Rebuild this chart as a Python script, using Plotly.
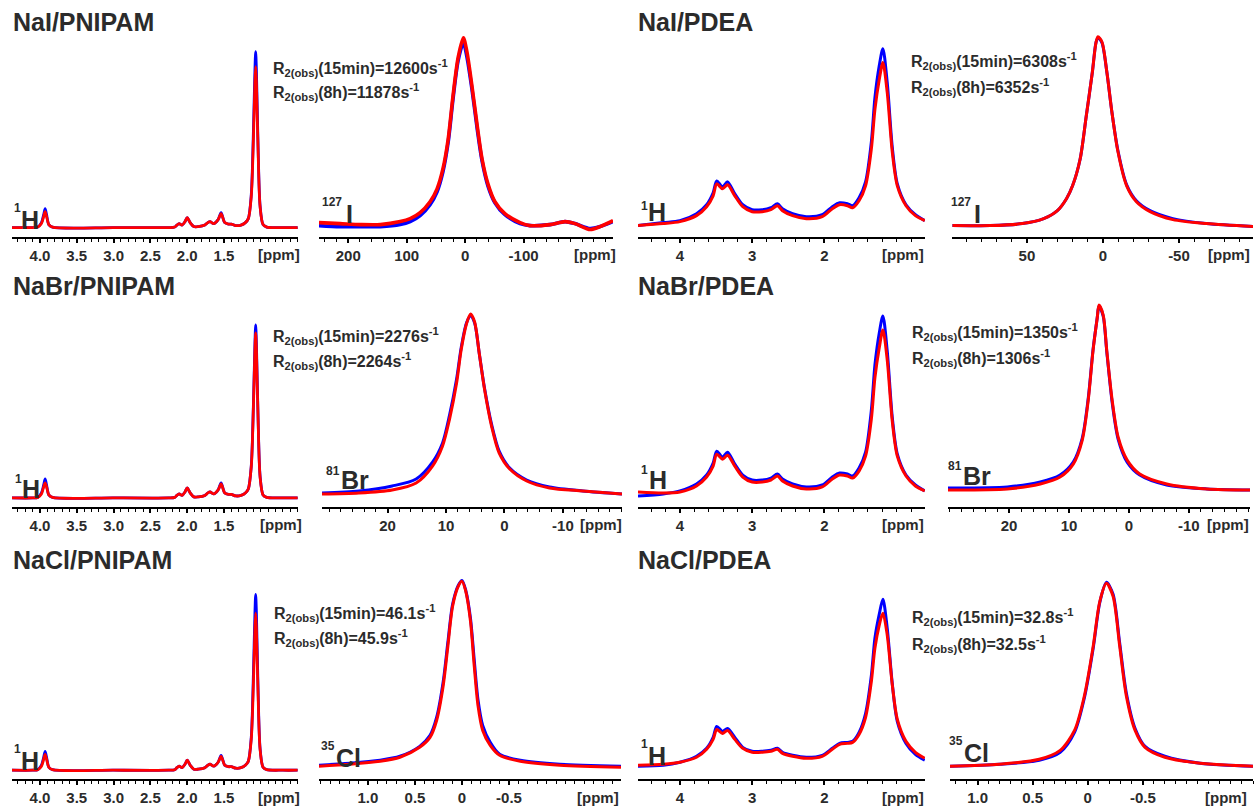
import plotly.graph_objects as go

W, H = 1257, 806

# ---------------- data (ppm, intensity) ----------------
pnipam_h_ppm = [4.38, 4.10, 4.03, 3.98, 3.95, 3.93, 3.91, 3.88, 3.83, 3.00, 2.25, 2.17, 2.14, 2.11, 2.07,
                2.03, 2.00, 1.96, 1.91, 1.85, 1.76, 1.72, 1.69, 1.64, 1.58, 1.54, 1.49, 1.44, 1.40, 1.34,
                1.27, 1.21, 1.17, 1.13, 1.10, 1.08, 1.07, 1.06, 1.04, 1.01, 0.97, 0.92, 0.70, 0.50]
nai_pnipam_h_red = [9, 9, 9.5, 13, 20, 25, 20, 12, 9.5, 9, 9, 9.5, 11.5, 13, 11.5, 15, 19, 14, 10, 10,
                    11.5, 14, 15, 13, 17, 23, 14, 12.5, 12.5, 11, 11.5, 14, 18, 40, 100, 155, 171, 155, 95, 30,
                    12, 9.5, 9, 9]
nai_pnipam_h_blue = [9, 9, 9.5, 14, 22, 28, 22, 12, 9.5, 9, 9, 9.5, 11.5, 13, 11.5, 15, 19, 14, 10, 10,
                     11.5, 14, 15, 13, 17, 24, 14, 12.5, 12.5, 11, 11.5, 14, 18, 42, 108, 168, 186, 168, 100, 31,
                     12, 9.5, 9, 9]
nabr_pnipam_h_red = [9, 9, 9.5, 13, 20, 24, 20, 12, 9.5, 9, 9, 9.5, 11.5, 13, 11.5, 15, 19, 14, 10, 10,
                     11.5, 14, 15, 13, 17, 23, 14, 12.5, 12.5, 11, 11.5, 14, 18, 40, 102, 158, 175, 158, 97, 30,
                     12, 9.5, 9, 9]
nabr_pnipam_h_blue = [9, 9, 9.5, 14, 22, 28, 22, 12, 9.5, 9, 9, 9.5, 11.5, 13, 11.5, 15, 19, 14, 10, 10,
                      11.5, 14, 15, 13, 17, 24, 14, 12.5, 12.5, 11, 11.5, 14, 18, 41, 105, 165, 183, 165, 99, 31,
                      12, 9.5, 9, 9]
nacl_pnipam_h_red = [9, 9, 9.5, 13, 20, 25, 20, 12, 9.5, 9, 9, 9.5, 11.5, 13, 11.5, 15, 19, 14, 10, 10,
                     11.5, 14, 15, 13, 17, 23, 14, 12.5, 12.5, 11, 11.5, 14, 18, 40, 98, 151, 167, 151, 93, 30,
                     12, 9.5, 9, 9]
nacl_pnipam_h_blue = [9, 9, 9.5, 14, 22, 28, 22, 12, 9.5, 9, 9, 9.5, 11.5, 13, 11.5, 15, 19, 14, 10, 10,
                      11.5, 14, 15, 13, 17, 24, 14, 12.5, 12.5, 11, 11.5, 14, 18, 42, 108, 168, 186, 168, 100, 31,
                      12, 9.5, 9, 9]

pdea_h_ppm = [4.58, 4.23, 4.00, 3.77, 3.63, 3.54, 3.49, 3.41, 3.34, 3.24, 3.13, 3.00, 2.86, 2.74, 2.65,
              2.58, 2.44, 2.25, 2.03, 1.89, 1.79, 1.68, 1.61, 1.52, 1.43, 1.35, 1.30, 1.24, 1.19, 1.13,
              1.06, 0.99, 0.87, 0.74, 0.61]
nai_pdea_h_red = [11, 13, 15, 21, 30, 41, 53, 48, 52, 41, 30, 25, 25, 27, 31, 26, 21, 18, 20, 28,
                  32, 31, 29, 36, 51, 88, 128, 158, 175, 145, 85, 51, 31, 21, 16]
nai_pdea_h_blue = [11, 14, 16, 23, 32, 44, 56, 50, 55, 43, 32, 27, 27, 29, 33, 28, 23, 20, 22, 30,
                   34, 33, 31, 39, 55, 95, 140, 172, 189, 155, 90, 53, 32, 22, 16]
nabr_pdea_h_red = [15, 14, 15, 21, 30, 41, 53, 48, 52, 41, 30, 25, 25, 27, 31, 26, 21, 18, 20, 28,
                   32, 31, 29, 36, 51, 88, 130, 160, 178, 148, 86, 51, 31, 21, 16]
nabr_pdea_h_blue = [11, 13, 16, 23, 32, 44, 56, 50, 55, 43, 32, 27, 27, 29, 33, 28, 23, 20, 22, 30,
                    34, 33, 31, 39, 55, 97, 143, 175, 192, 157, 90, 53, 32, 22, 16]
nacl_pdea_h_red = [14, 15, 17, 22, 30, 40, 50, 46, 49, 40, 31, 27, 27, 28, 30, 26, 23, 21, 23, 30,
                   35, 36, 37, 45, 62, 98, 132, 155, 167, 145, 95, 60, 38, 27, 21]
nacl_pdea_h_blue = [13, 14, 17, 23, 31, 42, 53, 48, 51, 42, 32, 28, 28, 29, 31, 27, 24, 22, 24, 31,
                    36, 37, 38, 47, 66, 104, 142, 166, 181, 152, 96, 58, 36, 25, 19]

i127_pnipam_ppm = [250, 214, 179, 145, 111, 94, 77, 60, 48, 38, 29, 21, 12, 3, -3, -12, -21, -29, -39, -51,
                   -68, -94, -111, -145, -171, -188, -214, -231, -253]
i127_pnipam_red = [14, 13, 12, 12, 15, 18, 24, 35, 48, 68, 98, 140, 180, 200, 186, 150, 110, 78, 53, 35,
                   23, 14, 11, 12, 15, 13, 7, 10, 16]
i127_pnipam_blue = [11, 10, 10, 10, 12, 15, 21, 32, 45, 65, 95, 137, 177, 195, 181, 147, 107, 76, 51, 34,
                    22, 13, 11, 12, 15, 13, 8, 10, 15]

i127_pdea_ppm = [99, 74, 53, 39, 30, 24, 20, 15, 11, 7, 4.6, 3.3, 0.7, -2.6, -5.9, -9.9, -15.6, -22, -31, -46,
                 -68, -99]
i127_pdea_red = [11, 11, 13, 18, 26, 38, 51, 78, 121, 165, 195, 201, 196, 165, 125, 85, 51, 35, 25, 17, 13, 10]
i127_pdea_blue = [11, 11, 13, 18, 26, 38, 51, 78, 121, 165, 195, 200, 195, 165, 125, 86, 52, 36, 26, 18, 13, 10]

br81_pnipam_ppm = [31.2, 24.9, 19.2, 15.1, 12.3, 10.6, 9.4, 8.2, 7.4, 6.5, 5.8, 5.1, 4.3, 3.4, 2.2, 0.9,
                   -0.9, -3.8, -7.7, -13.4, -20.1]
br81_pnipam_red = [13, 14, 17, 24, 41, 61, 88, 124, 158, 184, 194, 186, 154, 118, 81, 54, 38, 26, 19, 16, 13]
br81_pnipam_blue = [14, 16, 21, 28, 45, 64, 92, 128, 160, 185, 192, 185, 154, 119, 83, 56, 39, 27, 20, 16, 13]

br81_pdea_ppm = [30.2, 20.3, 14.8, 11.5, 9.3, 7.8, 6.8, 6.0, 5.3, 5.0, 4.3, 3.7, 2.8, 1.8, 0.3, -1.8, -6.3,
                 -13, -20.2]
br81_pdea_red = [17, 18, 23, 30, 43, 67, 107, 157, 190, 203, 193, 157, 107, 70, 47, 33, 23, 18, 17]
br81_pdea_blue = [19, 20, 25, 32, 45, 69, 109, 158, 190, 202, 192, 156, 105, 68, 45, 32, 22, 18, 17]

cl35_pnipam_ppm = [1.52, 1.19, 0.87, 0.66, 0.45, 0.34, 0.27, 0.20, 0.15, 0.10, 0.04, 0.0, -0.04, -0.09,
                   -0.13, -0.17, -0.22, -0.30, -0.40, -0.62, -1.04, -1.69]
cl35_pnipam_red = [13, 15, 18, 22, 32, 42, 59, 94, 134, 174, 194, 199, 189, 159, 114, 74, 49, 34, 24, 18, 14, 12]
cl35_pnipam_blue = [14, 16, 19, 23, 33, 44, 62, 98, 138, 176, 195, 200, 190, 162, 120, 80, 54, 37, 25, 19, 15, 13]

cl35_pdea_ppm = [1.25, 0.80, 0.44, 0.25, 0.12, 0.03, -0.05, -0.11, -0.17, -0.23, -0.29, -0.35, -0.43,
                 -0.52, -0.70, -1.02, -1.50]
cl35_pdea_red = [13, 15, 20, 29, 49, 84, 134, 179, 197, 184, 134, 84, 49, 32, 22, 16, 13]
cl35_pdea_blue = [13, 15, 19, 27, 47, 82, 132, 178, 198, 186, 137, 87, 51, 33, 23, 16, 13]

titles = ["NaI/PNIPAM", "NaI/PDEA", "NaBr/PNIPAM", "NaBr/PDEA", "NaCl/PNIPAM", "NaCl/PDEA"]
r2_15min = ["12600", "6308", "2276", "1350", "46.1", "32.8"]
r2_8h = ["11878", "6352", "2264", "1306", "45.9", "32.5"]
nuc_mass = ["1", "127", "1", "127", "1", "81", "1", "81", "1", "35", "1", "35"]
nuc_symbol = ["H", "I", "H", "I", "H", "Br", "H", "Br", "H", "Cl", "H", "Cl"]

tick_pnipam_h = [4.0, 3.5, 3.0, 2.5, 2.0, 1.5]
tick_pnipam_h_txt = ["4.0", "3.5", "3.0", "2.5", "2.0", "1.5"]
tick_pdea_h = [4, 3, 2]
tick_pdea_h_txt = ["4", "3", "2"]
tick_i_pnipam = [200, 100, 0, -100]
tick_i_pnipam_txt = ["200", "100", "0", "-100"]
tick_i_pdea = [50, 0, -50]
tick_i_pdea_txt = ["50", "0", "-50"]
tick_br = [20, 10, 0, -10]
tick_br_txt = ["20", "10", "0", "-10"]
tick_cl = [1.0, 0.5, 0.0, -0.5]
tick_cl_txt = ["1.0", "0.5", "0", "-0.5"]

# ---------------- styling / geometry ----------------
BLUE = "#0000ff"
RED = "#ff0000"
TXT = "#2b2b2b"
FONT = "Liberation Sans"

rows_px = {1: (30, 238), 2: (302, 510), 3: (576, 784)}
YMAX = 208

# panel: x, blue, red, xrange, (x0px, x1px), row, tickvals, ticktext, minor dtick, ppm label px, line width
panels = [
    (pnipam_h_ppm, nai_pnipam_h_blue, nai_pnipam_h_red, [4.38, 0.495], (12, 298), 1, tick_pnipam_h, tick_pnipam_h_txt, 0.1, 279, 2.8),
    (i127_pnipam_ppm, i127_pnipam_blue, i127_pnipam_red, [250, -253], (319, 613), 1, tick_i_pnipam, tick_i_pnipam_txt, 20, 595, 3.6),
    (pdea_h_ppm, nai_pdea_h_blue, nai_pdea_h_red, [4.58, 0.607], (638, 925), 1, tick_pdea_h, tick_pdea_h_txt, 0.2, 903, 3.0),
    (i127_pdea_ppm, i127_pdea_blue, i127_pdea_red, [99.3, -98.7], (952, 1253), 1, tick_i_pdea, tick_i_pdea_txt, 10, 1229, 3.0),
    (pnipam_h_ppm, nabr_pnipam_h_blue, nabr_pnipam_h_red, [4.38, 0.495], (12, 298), 2, tick_pnipam_h, tick_pnipam_h_txt, 0.1, 281, 2.8),
    (br81_pnipam_ppm, br81_pnipam_blue, br81_pnipam_red, [31.2, -20.1], (322, 622), 2, tick_br, tick_br_txt, 2, 601, 3.0),
    (pdea_h_ppm, nabr_pdea_h_blue, nabr_pdea_h_red, [4.58, 0.607], (638, 925), 2, tick_pdea_h, tick_pdea_h_txt, 0.2, 903, 3.0),
    (br81_pdea_ppm, br81_pdea_blue, br81_pdea_red, [30.2, -20.2], (948, 1250), 2, tick_br, tick_br_txt, 2, 1228, 3.0),
    (pnipam_h_ppm, nacl_pnipam_h_blue, nacl_pnipam_h_red, [4.38, 0.495], (12, 298), 3, tick_pnipam_h, tick_pnipam_h_txt, 0.1, 279, 2.8),
    (cl35_pnipam_ppm, cl35_pnipam_blue, cl35_pnipam_red, [1.52, -1.69], (319, 621), 3, tick_cl, tick_cl_txt, 0.1, 598, 3.0),
    (pdea_h_ppm, nacl_pdea_h_blue, nacl_pdea_h_red, [4.58, 0.607], (638, 925), 3, tick_pdea_h, tick_pdea_h_txt, 0.2, 903, 3.0),
    (cl35_pdea_ppm, cl35_pdea_blue, cl35_pdea_red, [1.25, -1.50], (950, 1253), 3, tick_cl, tick_cl_txt, 0.1, 1226, 3.0),
]

# (mass-number left x, mass-number centre y, symbol left x, symbol centre y)
nuc_pos = [(12, 209, 19, 221), (320, 203, 344, 215), (639, 207, 646, 213), (949, 203, 972, 215),
           (13, 482, 20, 492), (324, 474, 339, 483), (639, 473, 647, 483), (946, 469, 961, 479),
           (12, 754, 19, 766), (319, 751, 334, 763), (639, 749, 646, 761), (947, 746, 962, 758)]
title_pos = [(11, 22), (636, 22), (11, 288), (636, 288), (11, 563), (636, 563)]
r2_pos = [(271, 68, 93), (909, 61, 88), (271, 338, 363), (910, 334, 360), (272, 617, 642), (910, 621, 648)]

fig = go.Figure()
layout = dict(width=W, height=H, autosize=False, margin=dict(l=0, r=0, t=0, b=0),
              paper_bgcolor="white", plot_bgcolor="white", showlegend=False)
annotations = []


def px(xp):
    return xp / W


def py(yp):
    return 1 - yp / H


def bold(size):
    return dict(family=FONT, size=size, color=TXT, weight="bold")


for i, (xd, yb, yr, xr, (x0, x1), row, tv, tt, mdt, ppmx, lw) in enumerate(panels, start=1):
    xname = "xaxis" if i == 1 else f"xaxis{i}"
    yname = "yaxis" if i == 1 else f"yaxis{i}"
    xref = "x" if i == 1 else f"x{i}"
    yref = "y" if i == 1 else f"y{i}"
    top, bot = rows_px[row]
    for yd, col in ((yb, BLUE), (yr, RED)):
        fig.add_trace(go.Scatter(x=xd, y=yd, xaxis=xref, yaxis=yref, mode="lines",
                                 line=dict(color=col, width=lw, shape="spline", smoothing=0.8),
                                 hoverinfo="skip", showlegend=False))
    layout[xname] = dict(domain=[px(x0), px(x1)], range=xr, anchor=yref,
                         showline=True, linecolor="black", linewidth=2,
                         ticks="outside", ticklen=4, tickwidth=1.5, tickcolor="black",
                         tickmode="array", tickvals=tv, ticktext=tt,
                         tickfont=bold(15),
                         showgrid=False, zeroline=False, fixedrange=True,
                         minor=dict(tickmode="linear", tick0=0, dtick=mdt, ticks="outside",
                                    ticklen=3, tickwidth=1.2, tickcolor="black", showgrid=False))
    layout[yname] = dict(domain=[py(bot), py(top)], range=[0, YMAX], anchor=xref, visible=False,
                         fixedrange=True)
    annotations.append(dict(x=px(ppmx), y=py(bot + 18), xref="paper", yref="paper", text="[ppm]",
                            showarrow=False, xanchor="center", yanchor="middle", font=bold(15)))
    mx, my, sx, sy = nuc_pos[i - 1]
    annotations.append(dict(x=px(mx), y=py(my), xref="paper", yref="paper", text=nuc_mass[i - 1],
                            showarrow=False, xanchor="left", yanchor="middle", font=bold(12)))
    annotations.append(dict(x=px(sx), y=py(sy), xref="paper", yref="paper", text=nuc_symbol[i - 1],
                            showarrow=False, xanchor="left", yanchor="middle", font=bold(25)))

for k, t in enumerate(titles):
    tx, ty = title_pos[k]
    annotations.append(dict(x=px(tx), y=py(ty), xref="paper", yref="paper", text=t,
                            showarrow=False, xanchor="left", yanchor="middle", font=bold(25)))
    rx, ry1, ry2 = r2_pos[k]
    annotations.append(dict(x=px(rx), y=py(ry1), xref="paper", yref="paper",
                            text=f"R<sub>2(obs)</sub>(15min)={r2_15min[k]}s<sup>-1</sup>",
                            showarrow=False, xanchor="left", yanchor="middle", font=bold(16)))
    annotations.append(dict(x=px(rx), y=py(ry2), xref="paper", yref="paper",
                            text=f"R<sub>2(obs)</sub>(8h)={r2_8h[k]}s<sup>-1</sup>",
                            showarrow=False, xanchor="left", yanchor="middle", font=bold(16)))

layout["annotations"] = annotations
fig.update_layout(**layout)
fig.write_html("out.html", config={"displayModeBar": False},
               post_script="document.body.style.margin='0px';document.body.style.overflow='hidden';")
